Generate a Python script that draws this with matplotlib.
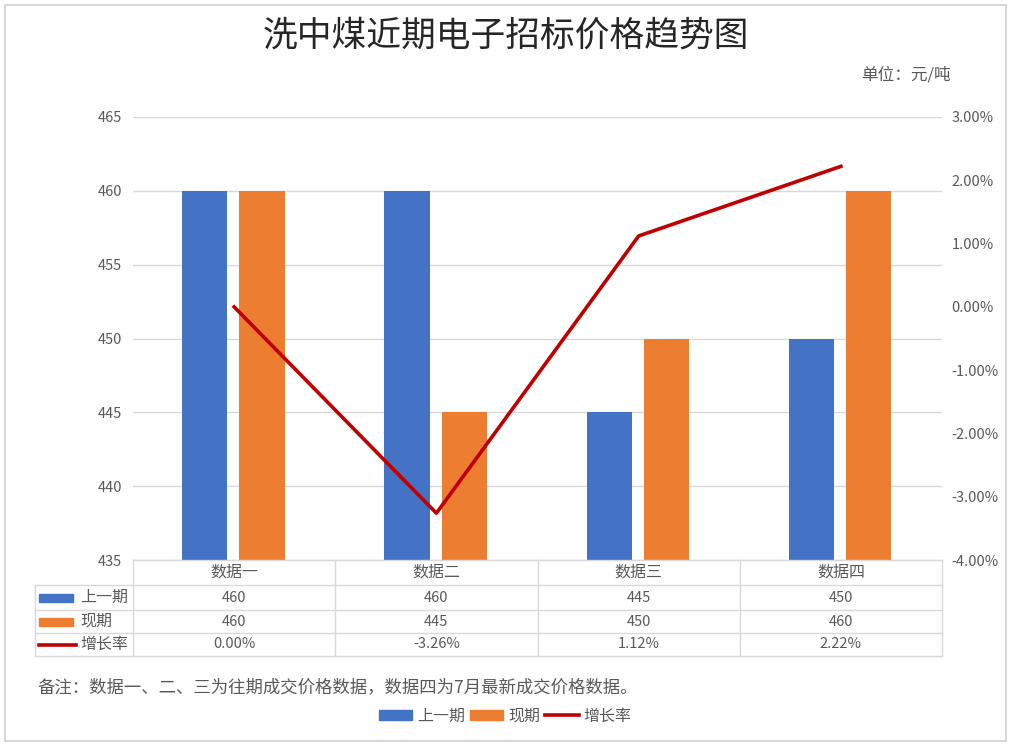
import numpy as np
import matplotlib.pyplot as plt
import matplotlib.transforms as mtransforms
from matplotlib.patches import Rectangle, Patch
from matplotlib.lines import Line2D

plt.rcParams['font.family'] = ['Noto Sans CJK SC', 'DejaVu Sans']

categories = ["数据一", "数据二", "数据三", "数据四"]
prev_vals = [460, 460, 445, 450]
curr_vals = [460, 445, 450, 460]
growth = [0.00, -3.26, 1.12, 2.22]
series_names = ["上一期", "现期", "增长率"]
note = "备注：数据一、二、三为往期成交价格数据，数据四为7月最新成交价格数据。"

BLUE = "#4472C4"
ORANGE = "#ED7D31"
RED = "#C00000"
GRID = "#d9d9d9"
TXT = "#595959"

W, H = 1011, 745
fig = plt.figure(figsize=(W / 100, H / 100), dpi=100)


def fx(px):
    return px / W


def fy(py):
    return 1 - py / H


# chart border
fig.add_artist(Rectangle((fx(5), fy(741)), fx(1001), (736) / H, transform=fig.transFigure,
                         fill=False, edgecolor="#d0d0d0", lw=1.2))

ax = fig.add_axes([fx(133), fy(560), fx(942) - fx(133), (560 - 117) / H])
x = np.arange(len(categories))
bw = 0.223
ax.bar(x - 0.145, prev_vals, bw, color=BLUE, zorder=2)
ax.bar(x + 0.138, curr_vals, bw, color=ORANGE, zorder=2)
ax.set_xlim(-0.5, 3.5)
ax.set_ylim(435, 465)
ax.set_yticks(np.arange(435, 466, 5))
ax.yaxis.grid(True, color=GRID, lw=1)
ax.set_axisbelow(True)
ax.set_xticks([])
for s in ax.spines.values():
    s.set_visible(False)
ax.tick_params(axis="y", length=0, labelsize=10.5, labelcolor=TXT, pad=8)

ax2 = ax.twinx()
ax2.plot(x, growth, color=RED, lw=2.6, zorder=3)
ax2.set_ylim(-4, 3)
ax2.set_yticks(np.arange(-4, 3.1, 1))
ax2.set_yticklabels([f"{v:.2f}%" for v in np.arange(-4, 3.1, 1)])
for s in ax2.spines.values():
    s.set_visible(False)
ax2.tick_params(axis="y", length=0, labelsize=10.5, labelcolor=TXT, pad=7)

# data table under the plot
tr = mtransforms.blended_transform_factory(ax.transData, fig.transFigure)
rows_y = [560, 585, 610, 633, 656]
left_x = -0.5 - (133 - 35) / (809 / 4)
line_kw = dict(color=GRID, lw=1, clip_on=False)
fig.add_artist(Line2D([-0.5, 3.5], [fy(rows_y[0])] * 2, transform=tr, **line_kw))
for ry in rows_y[1:]:
    fig.add_artist(Line2D([left_x, 3.5], [fy(ry)] * 2, transform=tr, **line_kw))
for vx in [-0.5, 0.5, 1.5, 2.5, 3.5]:
    fig.add_artist(Line2D([vx, vx], [fy(rows_y[0]), fy(rows_y[-1])], transform=tr, **line_kw))
fig.add_artist(Line2D([left_x, left_x], [fy(rows_y[1]), fy(rows_y[-1])], transform=tr, **line_kw))

for i, c in enumerate(categories):
    fig.text(i, fy((rows_y[0] + rows_y[1]) / 2), c, transform=tr, ha="center", va="center",
             fontsize=11.5, color=TXT)
row_vals = [[str(v) for v in prev_vals], [str(v) for v in curr_vals], [f"{g:.2f}%" for g in growth]]
for r, vals in enumerate(row_vals):
    yc = fy((rows_y[r + 1] + rows_y[r + 2]) / 2)
    for i, v in enumerate(vals):
        fig.text(i, yc, v, transform=tr, ha="center", va="center", fontsize=10.5, color=TXT)
    fig.text(fx(80), yc, series_names[r], ha="left", va="center", fontsize=11.5, color=TXT)
    if r < 2:
        fig.add_artist(Rectangle((fx(39), yc - 4 / H), 34 / W, 8 / H, transform=fig.transFigure,
                                 color=[BLUE, ORANGE][r]))
    else:
        fig.add_artist(Line2D([fx(39), fx(76)], [yc, yc], transform=fig.transFigure, color=RED, lw=2.6))

# texts
fig.text(fx(506), fy(36), "洗中煤近期电子招标价格趋势图", ha="center", va="center",
         fontsize=25, color="#262626", fontweight="medium")
fig.text(fx(951), fy(75), "单位：元/吨", ha="right", va="center", fontsize=12, color=TXT)
fig.text(fx(37), fy(687), note, ha="left", va="center", fontsize=12.5, color=TXT)

handles = [Patch(color=BLUE), Patch(color=ORANGE), Line2D([], [], color=RED, lw=2.6)]
fig.legend(handles, series_names, loc="center", bbox_to_anchor=(fx(505), fy(716)), ncol=3,
           frameon=False, fontsize=11.5, handlelength=2.1, handleheight=0.6,
           columnspacing=0.3, handletextpad=0.3, labelcolor=TXT)

fig.savefig("out.png", dpi=100)
